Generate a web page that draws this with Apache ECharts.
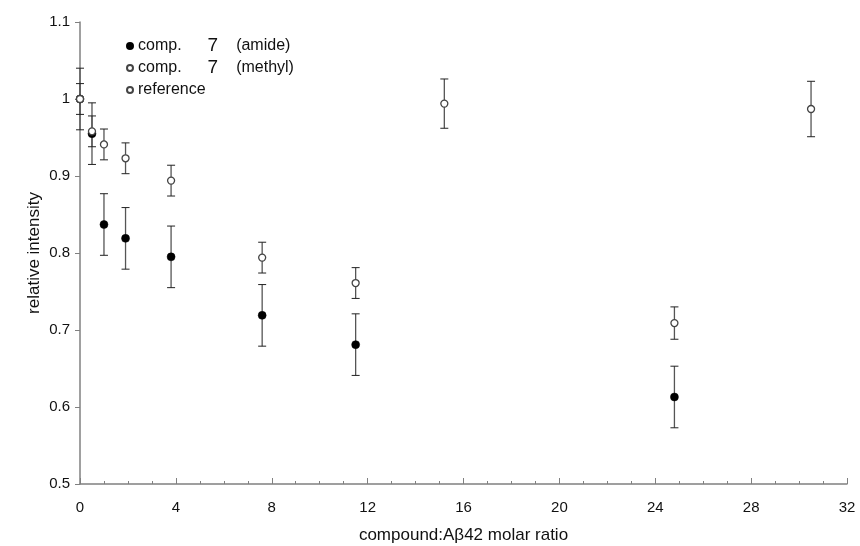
<!DOCTYPE html>
<html>
<head>
<meta charset="utf-8">
<script src="https://cdn.jsdelivr.net/npm/echarts@6/dist/echarts.min.js"></script>
<style>
	html, body { margin: 0; padding: 0; background: #fff; }
	#chart { width: 860px; height: 546px; }
</style>
</head>
<body>
<div id="chart"></div>
<script>
	// comp. 7 (amide)
	var amideX = [0, 0.5, 1, 1.9, 3.8, 7.6, 11.5, 24.8];
	var amideY = [1.0, 0.955, 0.837, 0.819, 0.795, 0.719, 0.681, 0.613];
	var amideErr = [0.04, 0.04, 0.04, 0.04, 0.04, 0.04, 0.04, 0.04];
	// comp. 7 (methyl)
	var methylX = [0, 0.5, 1, 1.9, 3.8, 7.6, 11.5, 24.8];
	var methylY = [1.0, 0.958, 0.941, 0.923, 0.894, 0.794, 0.761, 0.709];
	var methylErr = [0.02, 0.02, 0.02, 0.02, 0.02, 0.02, 0.02, 0.021];
	// reference
	var refX = [0, 15.2, 30.5];
	var refY = [1.0, 0.994, 0.987];
	var refErr = [0, 0.032, 0.036];

	var xTicks = [0, 4, 8, 12, 16, 20, 24, 28, 32];
	var yTicks = [0.5, 0.6, 0.7, 0.8, 0.9, 1, 1.1];

	var font = 'Liberation Sans, Arial, sans-serif';

	function pairs(xs, ys){
		return xs.map(function(v, i){ return [v, ys[i]]; });
	}
	function errRows(xs, ys, es){
		return xs.map(function(v, i){ return [v, ys[i] - es[i], ys[i] + es[i]]; });
	}
	//误差线
	function renderErr(params, api){
		var x = api.value(0);
		if (api.value(1) === api.value(2)) return null;
		var lo = api.coord([x, api.value(1)]);
		var hi = api.coord([x, api.value(2)]);
		var w = 4;
		return {
			type: 'group',
			children: [
				{type: 'line', shape: {x1: lo[0], y1: lo[1], x2: hi[0], y2: hi[1]}, style: {stroke: '#555', lineWidth: 1.3}},
				{type: 'line', shape: {x1: hi[0] - w, y1: hi[1], x2: hi[0] + w, y2: hi[1]}, style: {stroke: '#222', lineWidth: 1}},
				{type: 'line', shape: {x1: lo[0] - w, y1: lo[1], x2: lo[0] + w, y2: lo[1]}, style: {stroke: '#222', lineWidth: 1}}
			]
		};
	}

	var chart = echarts.init(document.getElementById('chart'));
	chart.setOption({
		backgroundColor: '#fff',
		animation: false,
		textStyle: {fontFamily: font},
		grid: {left: 80, right: 13, top: 22, bottom: 62, outerBoundsMode: 'none', containLabel: false},
		legend: {
			left: 121,
			top: 31,
			orient: 'vertical',
			itemGap: 2,
			itemWidth: 6,
			itemHeight: 6,
			icon: 'circle',
			data: ['comp. 7 (amide)', 'comp. 7 (methyl)', 'reference'],
			formatter: function(name){
				if (name === 'comp. 7 (amide)') return '{a|comp.}{b|7}{a|(amide)}';
				if (name === 'comp. 7 (methyl)') return '{a|comp.}{b|7}{a|(methyl)}';
				return '{a|reference}';
			},
			textStyle: {
				color: '#111',
				fontSize: 16,
				lineHeight: 20,
				rich: {
					a: {fontSize: 16, lineHeight: 20, color: '#111', fontFamily: font},
					b: {fontSize: 19, lineHeight: 20, color: '#111', fontFamily: font, padding: [0, 18, 0, 26]}
				}
			}
		},
		xAxis: {
			type: 'value',
			min: 0,
			max: 32,
			interval: 4,
			name: 'compound:A\u03b242 molar ratio',
			nameLocation: 'middle',
			nameGap: 43,
			nameMoveOverlap: false,
			nameTextStyle: {fontSize: 17, color: '#111'},
			axisLine: {lineStyle: {color: '#808080', width: 1.5}},
			axisTick: {inside: true, length: 6, lineStyle: {color: '#808080'}},
			minorTick: {show: true, splitNumber: 4, length: 3, lineStyle: {color: '#808080'}},
			splitLine: {show: false},
			axisLabel: {fontSize: 15, color: '#111', margin: 16,
				formatter: function(v){ return xTicks.indexOf(v) >= 0 ? String(v) : ''; }}
		},
		yAxis: {
			type: 'value',
			min: 0.5,
			max: 1.1,
			interval: 0.1,
			name: 'relative intensity',
			nameLocation: 'middle',
			nameGap: 37,
			nameMoveOverlap: false,
			nameTextStyle: {fontSize: 17, color: '#111'},
			axisLine: {show: true, lineStyle: {color: '#808080', width: 1.5}},
			axisTick: {show: true, length: 5, lineStyle: {color: '#808080'}},
			splitLine: {show: false},
			axisLabel: {fontSize: 15, color: '#111', margin: 10,
				formatter: function(v){
					var r = Math.round(v * 10) / 10;
					return yTicks.indexOf(r) >= 0 ? String(r) : '';
				}}
		},
		series: [
			{type: 'custom', name: 'err amide', renderItem: renderErr, encode: {x: 0, y: [1, 2]}, data: errRows(amideX, amideY, amideErr), z: 1},
			{type: 'custom', name: 'err methyl', renderItem: renderErr, encode: {x: 0, y: [1, 2]}, data: errRows(methylX, methylY, methylErr), z: 1},
			{type: 'custom', name: 'err ref', renderItem: renderErr, encode: {x: 0, y: [1, 2]}, data: errRows(refX, refY, refErr), z: 1},
			{
				type: 'scatter', name: 'comp. 7 (amide)', data: pairs(amideX, amideY),
				symbol: 'circle', symbolSize: 8, z: 3,
				itemStyle: {color: '#000', borderColor: '#000', borderWidth: 0.5, opacity: 1}
			},
			{
				type: 'scatter', name: 'comp. 7 (methyl)', data: pairs(methylX, methylY),
				symbol: 'circle', symbolSize: 7, z: 4,
				itemStyle: {color: '#fff', borderColor: '#444', borderWidth: 1.3, opacity: 1}
			},
			{
				type: 'scatter', name: 'reference', data: pairs(refX, refY),
				symbol: 'circle', symbolSize: 7, z: 5,
				itemStyle: {color: '#fff', borderColor: '#444', borderWidth: 1.3, opacity: 1}
			}
		]
	});
	window.addEventListener('resize', function(){ chart.resize(); });
</script>
</body>
</html>
